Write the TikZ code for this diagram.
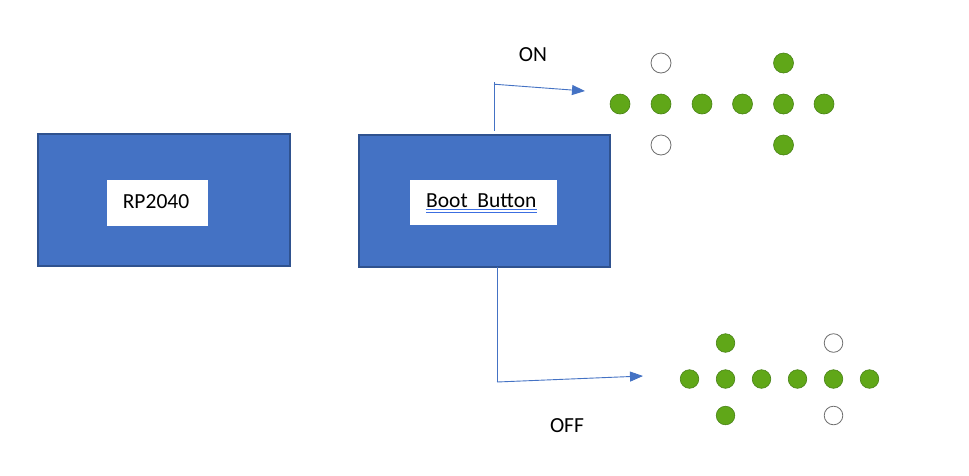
\documentclass[tikz,border=0pt]{standalone}
\usepackage{fontspec}
\setmainfont{Carlito}
\usetikzlibrary{arrows.meta,calc}
\definecolor{boxblue}{RGB}{68,114,196}
\definecolor{boxedge}{RGB}{47,82,143}
\definecolor{ledgreen}{RGB}{96,167,24}
\definecolor{lededge}{RGB}{72,130,22}
\definecolor{ledoff}{RGB}{110,110,110}
\definecolor{ulblue}{RGB}{60,110,225}
\begin{document}
\begin{tikzpicture}[x=1pt,y=-1pt,
  bigbox/.style={draw=boxedge,line width=1.6pt,fill=boxblue},
  labelbox/.style={fill=white,draw=none},
  txt/.style={font=\fontsize{21.5}{24}\selectfont,text=black,inner sep=0pt},
  wire/.style={draw=boxblue,line width=0.9pt},
  tipped/.style={wire,-{Triangle[length=13pt,width=10pt]}},
  ledon/.style={circle,fill=ledgreen,draw=lededge,line width=0.6pt,minimum size=20pt,inner sep=0pt},
  ledoffs/.style={circle,fill=white,draw=ledoff,line width=0.8pt,minimum size=20pt,inner sep=0pt},
  ledonsm/.style={ledon,minimum size=18.6pt},
  ledoffsm/.style={ledoffs,minimum size=18.6pt},
  uline/.style={draw=ulblue,line width=1pt}]
\useasboundingbox (0,0) rectangle (969,475);
\fill[white] (0,0) rectangle (969,475);

% boxes
\draw[bigbox] (38,134) rectangle (290,266);
\node[draw=none,fill=none,minimum width=252pt,minimum height=132pt,inner sep=0pt] (rp) at (164,200) {};
\fill[white] (107,180) rectangle (208,226);
\node[txt] (rptext) at (156,202) {RP2040};

\draw[bigbox] (359,135) rectangle (610,267);
\node[draw=none,minimum width=251pt,minimum height=132pt,inner sep=0pt] (boot) at (484.5,201) {};
\fill[white] (410,180) rectangle (557,225);
\node[txt,anchor=base west] (bbtext) at (426,207.5) {Boot~ Button};
\draw[uline] ($(bbtext.base west)+(0,2.2)$) -- ($(bbtext.base east)+(0,2.2)$);
\draw[uline] ($(bbtext.base west)+(0,4.6)$) -- ($(bbtext.base east)+(0,4.6)$);

% labels
\node[txt] (onlbl) at (533,55) {ON};
\node[txt] (offlbl) at (567,426) {OFF};

% connectors
\coordinate (onbend) at (494,82);
\coordinate (ontip) at (585,91);
\coordinate (offbend) at (497,382);
\coordinate (offtip) at (643,376);
\draw[wire] ($(onbend |- boot.north)+(0,-4)$) -- (onbend);
\draw[tipped] ($(onbend)+(0,2.2)$) -- (ontip);
\draw[wire] (offbend |- boot.south) -- (offbend);
\draw[tipped] (offbend) -- (offtip);

% ON pattern
\foreach \x [count=\i] in {620,661,702,742.5,783.5,824}
  \node[ledon] (onm\i) at (\x,104) {};
\node[ledoffs] (ont1) at (661,63) {};
\node[ledon] (ont2) at (783.5,63) {};
\node[ledoffs] (onb1) at (661,145) {};
\node[ledon] (onb2) at (783.5,145) {};

% OFF pattern
\foreach \x [count=\i] in {689.5,725.5,761.5,797.5,833.5,869.5}
  \node[ledonsm] (offm\i) at (\x,379) {};
\node[ledonsm] (offt1) at (725.5,343) {};
\node[ledoffsm] (offt2) at (833.5,343) {};
\node[ledonsm] (offb1) at (725.5,415.5) {};
\node[ledoffsm] (offb2) at (833.5,415.5) {};
\end{tikzpicture}
\end{document}
